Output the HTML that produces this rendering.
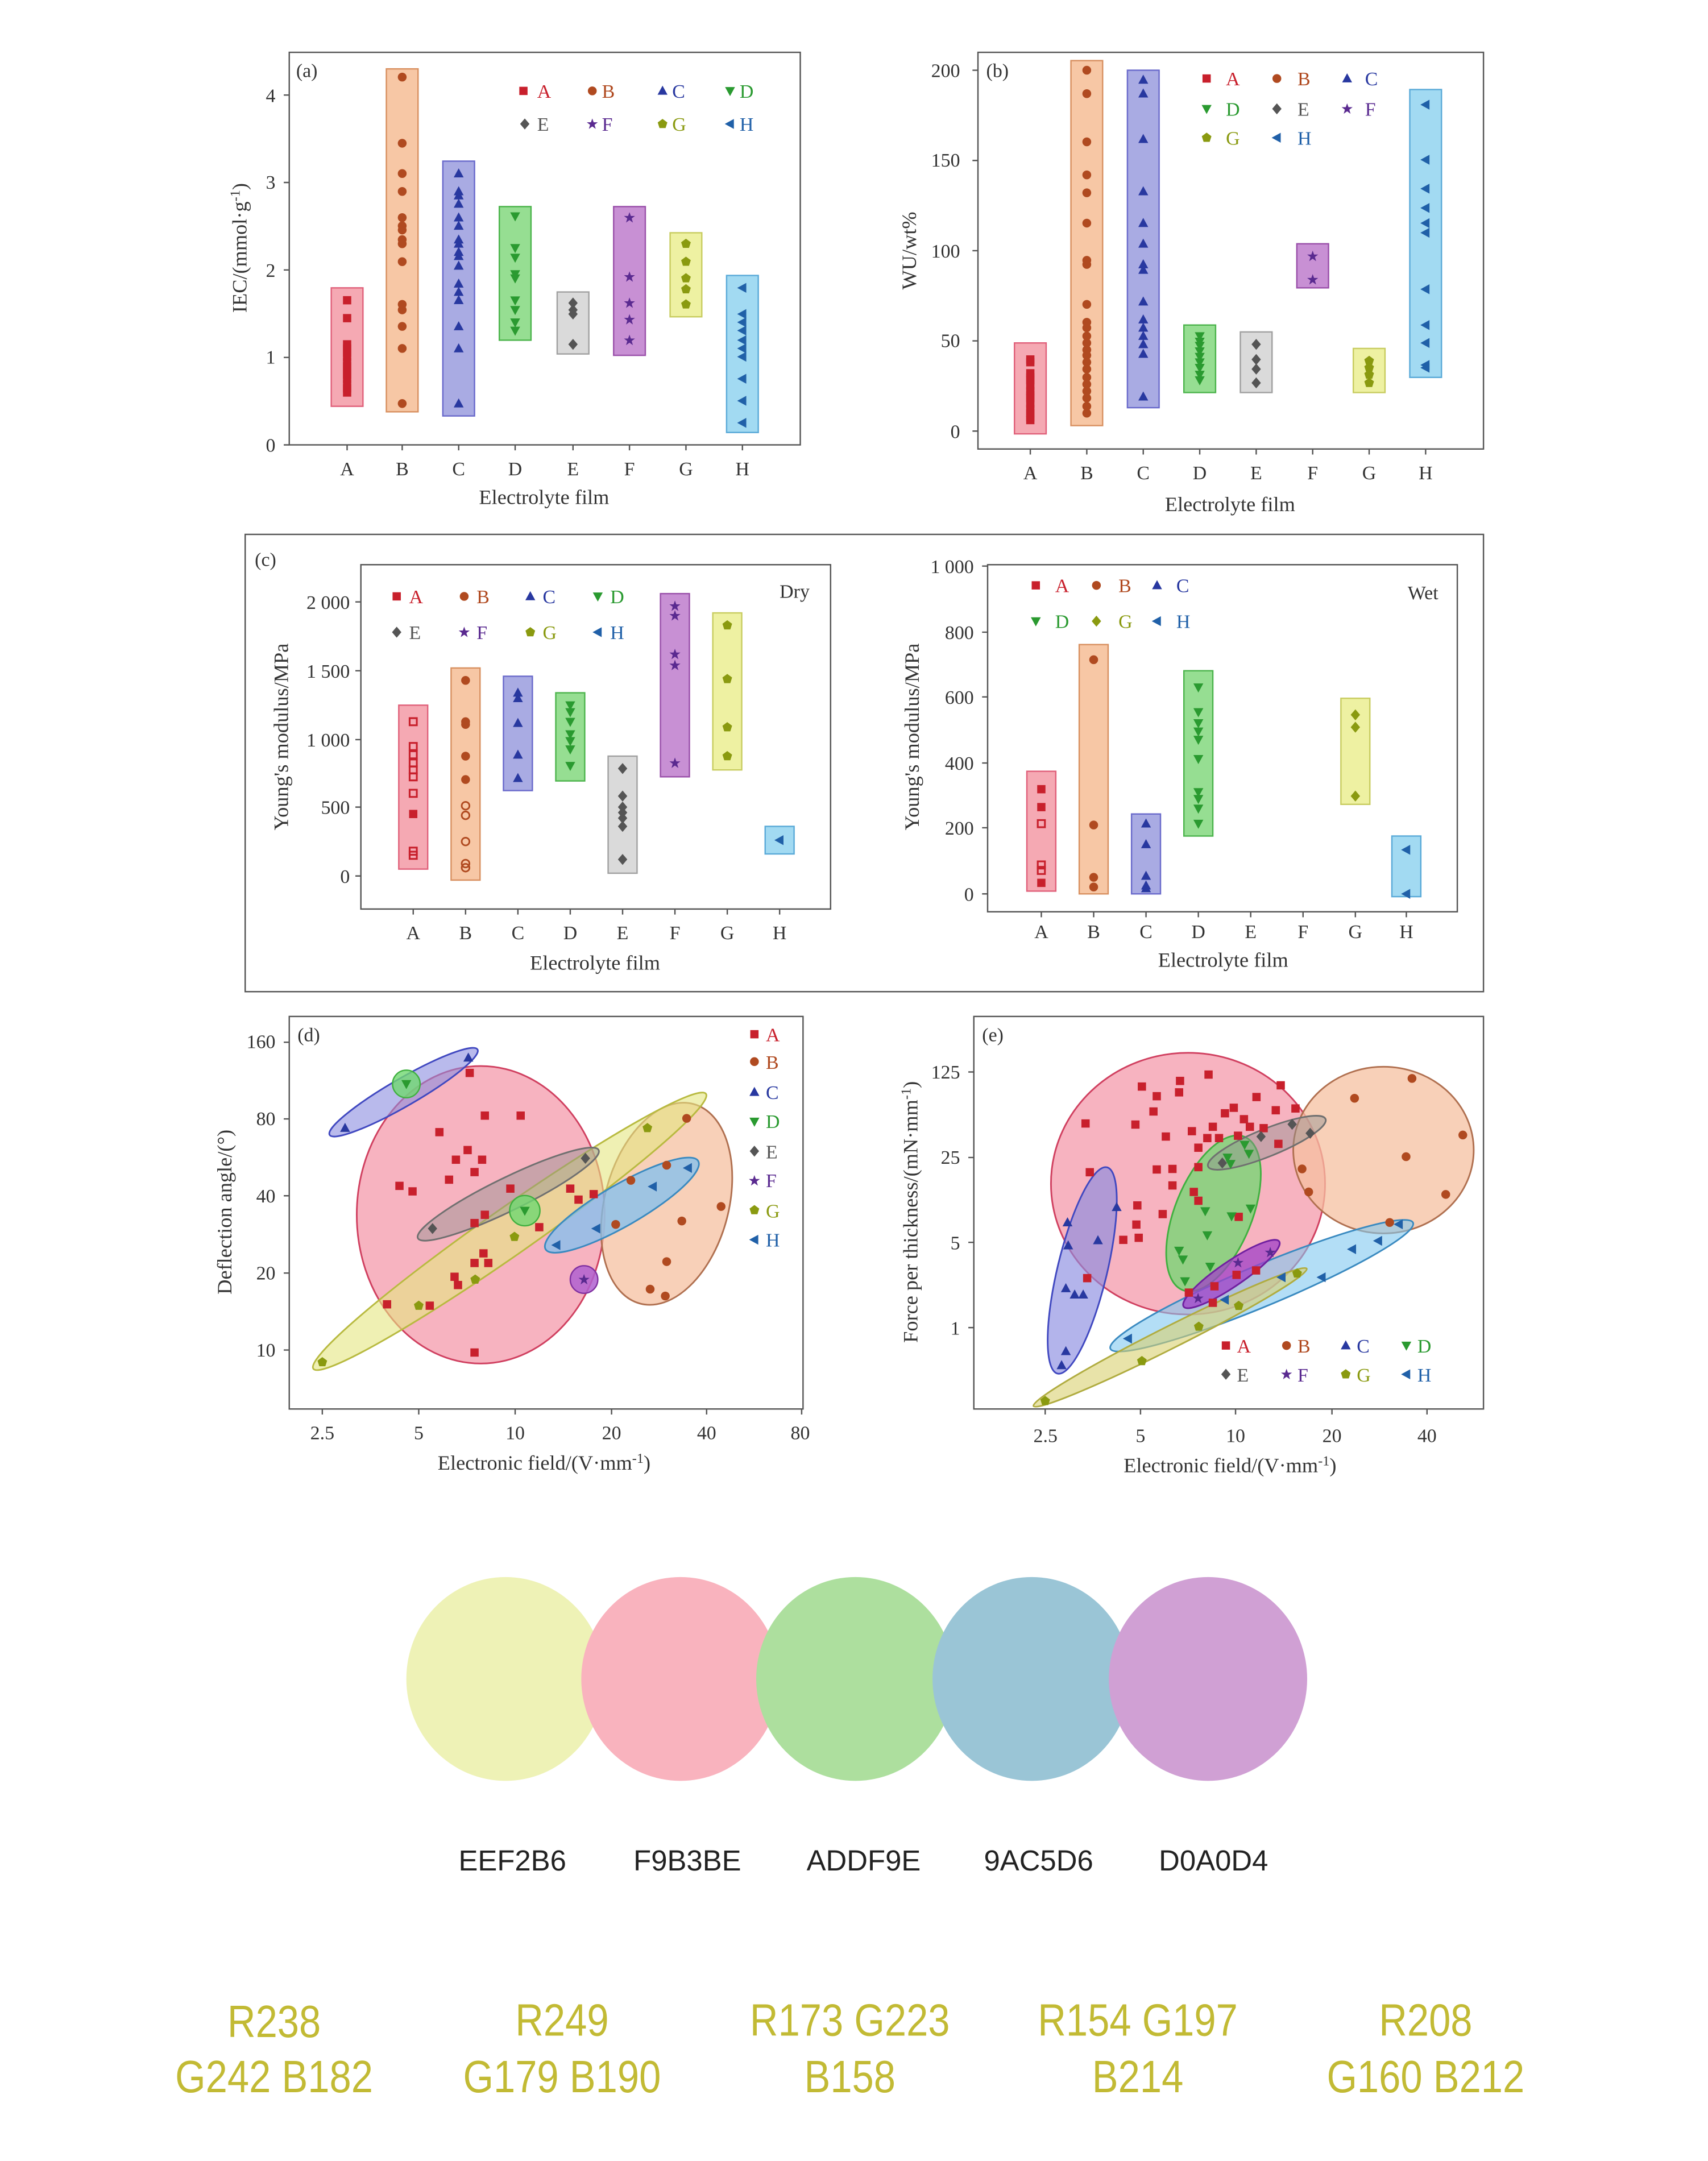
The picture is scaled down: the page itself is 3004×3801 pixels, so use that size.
<!DOCTYPE html>
<html><head><meta charset="utf-8"><style>
html,body{margin:0;padding:0;background:#fff}
svg{display:block}
.t{font-family:"Liberation Serif",serif;fill:#333}
.s{font-family:"Liberation Sans",sans-serif}
</style></head><body>
<svg width="3004" height="3801" viewBox="0 0 1240 1569" preserveAspectRatio="none" xmlns="http://www.w3.org/2000/svg">
<defs>
<path id="sq" d="M-3-3h6v6h-6z"/>
<path id="hs" d="M-2.6-2.6h5.2v5.2h-5.2z" fill="none" stroke="#C8202C" stroke-width="1.3"/>
<circle id="ci" r="3.2"/>
<path id="tu" d="M0-3.8L3.6,2.8H-3.6z"/>
<path id="td" d="M0,3.8L3.6-2.8H-3.6z"/>
<path id="di" d="M0-4L3.4,0L0,4L-3.4,0z"/>
<path id="st" d="M0-4L1,-1.2L4,-1.2L1.6,0.6L2.5,3.6L0,1.8L-2.5,3.6L-1.6,0.6L-4,-1.2L-1,-1.2z"/>
<path id="pe" d="M0-3.7L3.5-1.1L2.2,3H-2.2L-3.5-1.1z"/>
<path id="tl" d="M-3.8,0L2.8-3.6V3.6z"/>
</defs>
<rect width="1240" height="1569" fill="#fff"/>

<!-- ================= (a) ================= -->
<g>
<rect x="240.5" y="209" width="23" height="86" fill="#F5A9B3" stroke="#E0607A"/>
<rect x="280.5" y="50" width="23" height="249" fill="#F7C7A5" stroke="#D89060"/>
<rect x="321.5" y="117" width="23" height="185" fill="#A9ABE3" stroke="#6A6ACB"/>
<rect x="362.5" y="150" width="23" height="97" fill="#96DE92" stroke="#4CB44C"/>
<rect x="404.5" y="212" width="23" height="45" fill="#DADADA" stroke="#A0A0A0"/>
<rect x="445.5" y="150" width="23" height="108" fill="#C890D4" stroke="#9A50AA"/>
<rect x="486.5" y="169" width="23" height="61" fill="#EEF1A2" stroke="#C8CC60"/>
<rect x="527.5" y="200" width="23" height="114" fill="#A2DAF2" stroke="#5AAAD8"/>
<g fill="#C8202C"><use href="#sq" x="252" y="218"/><use href="#sq" x="252" y="231"/><use href="#sq" x="252" y="250"/><use href="#sq" x="252" y="253"/><use href="#sq" x="252" y="256"/><use href="#sq" x="252" y="259"/><use href="#sq" x="252" y="263"/><use href="#sq" x="252" y="266"/><use href="#sq" x="252" y="269"/><use href="#sq" x="252" y="272"/><use href="#sq" x="252" y="275"/><use href="#sq" x="252" y="279"/><use href="#sq" x="252" y="282"/><use href="#sq" x="252" y="285"/></g>
<g fill="#B04A20"><use href="#ci" x="292" y="56"/><use href="#ci" x="292" y="104"/><use href="#ci" x="292" y="126"/><use href="#ci" x="292" y="139"/><use href="#ci" x="292" y="158"/><use href="#ci" x="292" y="164"/><use href="#ci" x="292" y="167"/><use href="#ci" x="292" y="174"/><use href="#ci" x="292" y="177"/><use href="#ci" x="292" y="190"/><use href="#ci" x="292" y="221"/><use href="#ci" x="292" y="225"/><use href="#ci" x="292" y="237"/><use href="#ci" x="292" y="253"/><use href="#ci" x="292" y="293"/></g>
<g fill="#2838A0"><use href="#tu" x="333" y="126"/><use href="#tu" x="333" y="139"/><use href="#tu" x="333" y="142"/><use href="#tu" x="333" y="148"/><use href="#tu" x="333" y="158"/><use href="#tu" x="333" y="164"/><use href="#tu" x="333" y="174"/><use href="#tu" x="333" y="177"/><use href="#tu" x="333" y="183"/><use href="#tu" x="333" y="186"/><use href="#tu" x="333" y="193"/><use href="#tu" x="333" y="206"/><use href="#tu" x="333" y="212"/><use href="#tu" x="333" y="218"/><use href="#tu" x="333" y="237"/><use href="#tu" x="333" y="253"/><use href="#tu" x="333" y="293"/></g>
<g fill="#2A9A30"><use href="#td" x="374" y="157"/><use href="#td" x="374" y="180"/><use href="#td" x="374" y="187"/><use href="#td" x="374" y="199"/><use href="#td" x="374" y="202"/><use href="#td" x="374" y="218"/><use href="#td" x="374" y="225"/><use href="#td" x="374" y="234"/><use href="#td" x="374" y="240"/></g>
<g fill="#555"><use href="#di" x="416" y="220"/><use href="#di" x="416" y="225"/><use href="#di" x="416" y="228"/><use href="#di" x="416" y="250"/></g>
<g fill="#5A2A90"><use href="#st" x="457" y="158"/><use href="#st" x="457" y="201"/><use href="#st" x="457" y="220"/><use href="#st" x="457" y="232"/><use href="#st" x="457" y="247"/></g>
<g fill="#8A9A10"><use href="#pe" x="498" y="177"/><use href="#pe" x="498" y="190"/><use href="#pe" x="498" y="202"/><use href="#pe" x="498" y="210"/><use href="#pe" x="498" y="221"/></g>
<g fill="#2060A8"><use href="#tl" x="539" y="209"/><use href="#tl" x="539" y="228"/><use href="#tl" x="539" y="234"/><use href="#tl" x="539" y="240"/><use href="#tl" x="539" y="247"/><use href="#tl" x="539" y="253"/><use href="#tl" x="539" y="259"/><use href="#tl" x="539" y="275"/><use href="#tl" x="539" y="291"/><use href="#tl" x="539" y="307"/></g>
<rect x="210" y="38" width="371" height="285" fill="none" stroke="#555" stroke-width="1"/>
<g stroke="#555"><path d="M210,323h-4M210,259.5h-4M210,196h-4M210,132.5h-4M210,69h-4M252,323v4M292,323v4M333,323v4M374,323v4M416,323v4M457,323v4M498,323v4M539,323v4"/></g>
<g class="t" font-size="14" text-anchor="end"><text x="200" y="328">0</text><text x="200" y="264">1</text><text x="200" y="201">2</text><text x="200" y="137">3</text><text x="200" y="74">4</text></g>
<g class="t" font-size="14" text-anchor="middle"><text x="252" y="345">A</text><text x="292" y="345">B</text><text x="333" y="345">C</text><text x="374" y="345">D</text><text x="416" y="345">E</text><text x="457" y="345">F</text><text x="498" y="345">G</text><text x="539" y="345">H</text>
<text x="395" y="366" font-size="15">Electrolyte film</text>
<text transform="translate(179,180) rotate(-90)" font-size="15">IEC/(mmol·g<tspan dy="-5" font-size="10">-1</tspan><tspan dy="5">)</tspan></text></g>
<text class="t" x="215" y="56" font-size="14">(a)</text>
<g font-family="Liberation Serif,serif" font-size="14">
<use href="#sq" x="380" y="66" fill="#C8202C"/><text x="390" y="71" fill="#C8202C">A</text>
<use href="#ci" x="430" y="66" fill="#B04A20"/><text x="437" y="71" fill="#B04A20">B</text>
<use href="#tu" x="481" y="66" fill="#2838A0"/><text x="488" y="71" fill="#2838A0">C</text>
<use href="#td" x="530" y="66" fill="#2A9A30"/><text x="537" y="71" fill="#2A9A30">D</text>
<use href="#di" x="381" y="90" fill="#555"/><text x="390" y="95" fill="#555">E</text>
<use href="#st" x="430" y="90" fill="#5A2A90"/><text x="437" y="95" fill="#5A2A90">F</text>
<use href="#pe" x="481" y="90" fill="#8A9A10"/><text x="488" y="95" fill="#8A9A10">G</text>
<use href="#tl" x="530" y="90" fill="#2060A8"/><text x="537" y="95" fill="#2060A8">H</text>
</g>
</g>

<!-- ================= (b) ================= -->
<g>
<rect x="736.5" y="249" width="23" height="66" fill="#F5A9B3" stroke="#E0607A"/>
<rect x="777.5" y="44" width="23" height="265" fill="#F7C7A5" stroke="#D89060"/>
<rect x="818.5" y="51" width="23" height="245" fill="#A9ABE3" stroke="#6A6ACB"/>
<rect x="859.5" y="236" width="23" height="49" fill="#96DE92" stroke="#4CB44C"/>
<rect x="900.5" y="241" width="23" height="44" fill="#DADADA" stroke="#A0A0A0"/>
<rect x="941.5" y="177" width="23" height="32" fill="#C890D4" stroke="#9A50AA"/>
<rect x="982.5" y="253" width="23" height="32" fill="#EEF1A2" stroke="#C8CC60"/>
<rect x="1023.5" y="65" width="23" height="209" fill="#A2DAF2" stroke="#5AAAD8"/>
<g fill="#C8202C"><use href="#sq" x="748" y="261"/><use href="#sq" x="748" y="263"/><use href="#sq" x="748" y="271"/><use href="#sq" x="748" y="274"/><use href="#sq" x="748" y="276"/><use href="#sq" x="748" y="280"/><use href="#sq" x="748" y="284"/><use href="#sq" x="748" y="287"/><use href="#sq" x="748" y="289"/><use href="#sq" x="748" y="293"/><use href="#sq" x="748" y="297"/><use href="#sq" x="748" y="300"/><use href="#sq" x="748" y="303"/><use href="#sq" x="748" y="305"/></g>
<g fill="#B04A20"><use href="#ci" x="789" y="51"/><use href="#ci" x="789" y="68"/><use href="#ci" x="789" y="103"/><use href="#ci" x="789" y="127"/><use href="#ci" x="789" y="140"/><use href="#ci" x="789" y="162"/><use href="#ci" x="789" y="189"/><use href="#ci" x="789" y="192"/><use href="#ci" x="789" y="221"/><use href="#ci" x="789" y="234"/><use href="#ci" x="789" y="238"/><use href="#ci" x="789" y="244"/><use href="#ci" x="789" y="249"/><use href="#ci" x="789" y="254"/><use href="#ci" x="789" y="258"/><use href="#ci" x="789" y="263"/><use href="#ci" x="789" y="268"/><use href="#ci" x="789" y="274"/><use href="#ci" x="789" y="279"/><use href="#ci" x="789" y="284"/><use href="#ci" x="789" y="289"/><use href="#ci" x="789" y="295"/><use href="#ci" x="789" y="300"/></g>
<g fill="#2838A0"><use href="#tu" x="830" y="58"/><use href="#tu" x="830" y="68"/><use href="#tu" x="830" y="101"/><use href="#tu" x="830" y="139"/><use href="#tu" x="830" y="162"/><use href="#tu" x="830" y="177"/><use href="#tu" x="830" y="192"/><use href="#tu" x="830" y="196"/><use href="#tu" x="830" y="219"/><use href="#tu" x="830" y="232"/><use href="#tu" x="830" y="238"/><use href="#tu" x="830" y="244"/><use href="#tu" x="830" y="250"/><use href="#tu" x="830" y="257"/><use href="#tu" x="830" y="288"/></g>
<g fill="#2A9A30"><use href="#td" x="871" y="244"/><use href="#td" x="871" y="248"/><use href="#td" x="871" y="251"/><use href="#td" x="871" y="255"/><use href="#td" x="871" y="259"/><use href="#td" x="871" y="263"/><use href="#td" x="871" y="267"/><use href="#td" x="871" y="272"/><use href="#td" x="871" y="276"/></g>
<g fill="#555"><use href="#di" x="912" y="250"/><use href="#di" x="912" y="261"/><use href="#di" x="912" y="268"/><use href="#di" x="912" y="278"/></g>
<g fill="#5A2A90"><use href="#st" x="953" y="186"/><use href="#st" x="953" y="203"/></g>
<g fill="#8A9A10"><use href="#pe" x="994" y="262"/><use href="#pe" x="994" y="267"/><use href="#pe" x="994" y="272"/><use href="#pe" x="994" y="278"/></g>
<g fill="#2060A8"><use href="#tl" x="1035" y="76"/><use href="#tl" x="1035" y="116"/><use href="#tl" x="1035" y="137"/><use href="#tl" x="1035" y="151"/><use href="#tl" x="1035" y="162"/><use href="#tl" x="1035" y="169"/><use href="#tl" x="1035" y="210"/><use href="#tl" x="1035" y="236"/><use href="#tl" x="1035" y="249"/><use href="#tl" x="1035" y="265"/><use href="#tl" x="1035" y="267"/></g>
<rect x="710" y="38" width="367" height="288" fill="none" stroke="#555"/>
<g stroke="#555"><path d="M710,313h-4M710,247.5h-4M710,182h-4M710,116.5h-4M710,51h-4M748,326v4M789,326v4M830,326v4M871,326v4M912,326v4M953,326v4M994,326v4M1035,326v4"/></g>
<g class="t" font-size="14" text-anchor="end"><text x="697" y="318">0</text><text x="697" y="252">50</text><text x="697" y="187">100</text><text x="697" y="121">150</text><text x="697" y="56">200</text></g>
<g class="t" font-size="14" text-anchor="middle"><text x="748" y="348">A</text><text x="789" y="348">B</text><text x="830" y="348">C</text><text x="871" y="348">D</text><text x="912" y="348">E</text><text x="953" y="348">F</text><text x="994" y="348">G</text><text x="1035" y="348">H</text>
<text x="893" y="371" font-size="15">Electrolyte film</text>
<text transform="translate(665,182) rotate(-90)" font-size="15">WU/wt%</text></g>
<text class="t" x="716" y="56" font-size="14">(b)</text>
<g font-family="Liberation Serif,serif" font-size="14">
<use href="#sq" x="876" y="57" fill="#C8202C"/><text x="890" y="62" fill="#C8202C">A</text>
<use href="#ci" x="927" y="57" fill="#B04A20"/><text x="942" y="62" fill="#B04A20">B</text>
<use href="#tu" x="978" y="57" fill="#2838A0"/><text x="991" y="62" fill="#2838A0">C</text>
<use href="#td" x="876" y="79" fill="#2A9A30"/><text x="890" y="84" fill="#2A9A30">D</text>
<use href="#di" x="927" y="79" fill="#555"/><text x="942" y="84" fill="#555">E</text>
<use href="#st" x="978" y="79" fill="#5A2A90"/><text x="991" y="84" fill="#5A2A90">F</text>
<use href="#pe" x="876" y="100" fill="#8A9A10"/><text x="890" y="105" fill="#8A9A10">G</text>
<use href="#tl" x="927" y="100" fill="#2060A8"/><text x="942" y="105" fill="#2060A8">H</text>
</g>
</g>

<!-- ================= (c) ================= -->
<rect x="178" y="388" width="899" height="332" fill="none" stroke="#555"/>
<text class="t" x="185" y="411" font-size="14">(c)</text>
<g>
<rect x="289.5" y="512" width="21" height="119" fill="#F5A9B3" stroke="#E0607A"/>
<rect x="327.5" y="485" width="21" height="154" fill="#F7C7A5" stroke="#D89060"/>
<rect x="365.5" y="491" width="21" height="83" fill="#A9ABE3" stroke="#6A6ACB"/>
<rect x="403.5" y="503" width="21" height="64" fill="#96DE92" stroke="#4CB44C"/>
<rect x="441.5" y="549" width="21" height="85" fill="#DADADA" stroke="#A0A0A0"/>
<rect x="479.5" y="431" width="21" height="133" fill="#C890D4" stroke="#9A50AA"/>
<rect x="517.5" y="445" width="21" height="114" fill="#EEF1A2" stroke="#C8CC60"/>
<rect x="555.5" y="600" width="21" height="20" fill="#A2DAF2" stroke="#5AAAD8"/>
<g><use href="#hs" x="300" y="524"/><use href="#hs" x="300" y="542"/><use href="#hs" x="300" y="548"/><use href="#hs" x="300" y="554"/><use href="#hs" x="300" y="559"/><use href="#hs" x="300" y="564"/><use href="#hs" x="300" y="576"/><use href="#sq" x="300" y="591" fill="#C8202C"/><use href="#hs" x="300" y="618"/><use href="#hs" x="300" y="621"/></g>
<g fill="#B04A20"><use href="#ci" x="338" y="494"/><use href="#ci" x="338" y="524"/><use href="#ci" x="338" y="526"/><use href="#ci" x="338" y="549"/><use href="#ci" x="338" y="566"/></g>
<g fill="none" stroke="#B04A20" stroke-width="1.2"><circle cx="338" cy="585" r="2.8"/><circle cx="338" cy="592" r="2.8"/><circle cx="338" cy="611" r="2.8"/><circle cx="338" cy="627" r="2.8"/><circle cx="338" cy="630" r="2.8"/></g>
<g fill="#2838A0"><use href="#tu" x="376" y="503"/><use href="#tu" x="376" y="507"/><use href="#tu" x="376" y="525"/><use href="#tu" x="376" y="548"/><use href="#tu" x="376" y="565"/></g>
<g fill="#2A9A30"><use href="#td" x="414" y="512"/><use href="#td" x="414" y="517"/><use href="#td" x="414" y="524"/><use href="#td" x="414" y="533"/><use href="#td" x="414" y="538"/><use href="#td" x="414" y="544"/><use href="#td" x="414" y="556"/></g>
<g fill="#555"><use href="#di" x="452" y="558"/><use href="#di" x="452" y="578"/><use href="#di" x="452" y="586"/><use href="#di" x="452" y="590"/><use href="#di" x="452" y="594"/><use href="#di" x="452" y="600"/><use href="#di" x="452" y="624"/></g>
<g fill="#5A2A90"><use href="#st" x="490" y="440"/><use href="#st" x="490" y="447"/><use href="#st" x="490" y="475"/><use href="#st" x="490" y="483"/><use href="#st" x="490" y="554"/></g>
<g fill="#8A9A10"><use href="#pe" x="528" y="454"/><use href="#pe" x="528" y="493"/><use href="#pe" x="528" y="528"/><use href="#pe" x="528" y="549"/></g>
<g fill="#2060A8"><use href="#tl" x="566" y="610"/></g>
<rect x="262" y="410" width="341" height="250" fill="none" stroke="#555"/>
<g stroke="#555"><path d="M262,636h-4M262,586h-4M262,537h-4M262,487h-4M262,437h-4M300,660v4M338,660v4M376,660v4M414,660v4M452,660v4M490,660v4M528,660v4M566,660v4"/></g>
<g class="t" font-size="14" text-anchor="end"><text x="254" y="641">0</text><text x="254" y="591">500</text><text x="254" y="542">1 000</text><text x="254" y="492">1 500</text><text x="254" y="442">2 000</text></g>
<g class="t" font-size="14" text-anchor="middle"><text x="300" y="682">A</text><text x="338" y="682">B</text><text x="376" y="682">C</text><text x="414" y="682">D</text><text x="452" y="682">E</text><text x="490" y="682">F</text><text x="528" y="682">G</text><text x="566" y="682">H</text>
<text x="432" y="704" font-size="15">Electrolyte film</text>
<text transform="translate(209,535) rotate(-90)" font-size="15">Young's modulus/MPa</text></g>
<text class="t" x="566" y="434" font-size="14">Dry</text>
<g font-family="Liberation Serif,serif" font-size="14">
<use href="#sq" x="288" y="433" fill="#C8202C"/><text x="297" y="438" fill="#C8202C">A</text>
<use href="#ci" x="337" y="433" fill="#B04A20"/><text x="346" y="438" fill="#B04A20">B</text>
<use href="#tu" x="385" y="433" fill="#2838A0"/><text x="394" y="438" fill="#2838A0">C</text>
<use href="#td" x="434" y="433" fill="#2A9A30"/><text x="443" y="438" fill="#2A9A30">D</text>
<use href="#di" x="288" y="459" fill="#555"/><text x="297" y="464" fill="#555">E</text>
<use href="#st" x="337" y="459" fill="#5A2A90"/><text x="346" y="464" fill="#5A2A90">F</text>
<use href="#pe" x="385" y="459" fill="#8A9A10"/><text x="394" y="464" fill="#8A9A10">G</text>
<use href="#tl" x="434" y="459" fill="#2060A8"/><text x="443" y="464" fill="#2060A8">H</text>
</g>
</g>
<g>
<rect x="745.5" y="560" width="21" height="87" fill="#F5A9B3" stroke="#E0607A"/>
<rect x="783.5" y="468" width="21" height="181" fill="#F7C7A5" stroke="#D89060"/>
<rect x="821.5" y="591" width="21" height="58" fill="#A9ABE3" stroke="#6A6ACB"/>
<rect x="859.5" y="487" width="21" height="120" fill="#96DE92" stroke="#4CB44C"/>
<rect x="973.5" y="507" width="21" height="77" fill="#EEF1A2" stroke="#C8CC60"/>
<rect x="1010.5" y="607" width="21" height="44" fill="#A2DAF2" stroke="#5AAAD8"/>
<g fill="#C8202C"><use href="#sq" x="756" y="573"/><use href="#sq" x="756" y="586"/><use href="#sq" x="756" y="641"/></g>
<g><use href="#hs" x="756" y="598"/><use href="#hs" x="756" y="628"/><use href="#hs" x="756" y="632"/></g>
<g fill="#B04A20"><use href="#ci" x="794" y="479"/><use href="#ci" x="794" y="599"/><use href="#ci" x="794" y="637"/><use href="#ci" x="794" y="644"/></g>
<g fill="#2838A0"><use href="#tu" x="832" y="598"/><use href="#tu" x="832" y="613"/><use href="#tu" x="832" y="636"/><use href="#tu" x="832" y="643"/><use href="#tu" x="832" y="645"/></g>
<g fill="#2A9A30"><use href="#td" x="870" y="499"/><use href="#td" x="870" y="517"/><use href="#td" x="870" y="525"/><use href="#td" x="870" y="531"/><use href="#td" x="870" y="537"/><use href="#td" x="870" y="551"/><use href="#td" x="870" y="575"/><use href="#td" x="870" y="580"/><use href="#td" x="870" y="587"/><use href="#td" x="870" y="598"/></g>
<g fill="#8A9A10"><use href="#di" x="984" y="519"/><use href="#di" x="984" y="528"/><use href="#di" x="984" y="578"/></g>
<g fill="#2060A8"><use href="#tl" x="1021" y="617"/><use href="#tl" x="1021" y="649"/></g>
<rect x="717" y="410" width="341" height="252" fill="none" stroke="#555"/>
<g stroke="#555"><path d="M717,649h-4M717,601h-4M717,554h-4M717,506h-4M717,459h-4M717,411h-4M756,662v4M794,662v4M832,662v4M870,662v4M908,662v4M946,662v4M984,662v4M1021,662v4"/></g>
<g class="t" font-size="14" text-anchor="end"><text x="707" y="654">0</text><text x="707" y="606">200</text><text x="707" y="559">400</text><text x="707" y="511">600</text><text x="707" y="464">800</text><text x="707" y="416">1 000</text></g>
<g class="t" font-size="14" text-anchor="middle"><text x="756" y="681">A</text><text x="794" y="681">B</text><text x="832" y="681">C</text><text x="870" y="681">D</text><text x="908" y="681">E</text><text x="946" y="681">F</text><text x="984" y="681">G</text><text x="1021" y="681">H</text>
<text x="888" y="702" font-size="15">Electrolyte film</text>
<text transform="translate(667,535) rotate(-90)" font-size="15">Young's modulus/MPa</text></g>
<text class="t" x="1022" y="435" font-size="14">Wet</text>
<g font-family="Liberation Serif,serif" font-size="14">
<use href="#sq" x="752" y="425" fill="#C8202C"/><text x="766" y="430" fill="#C8202C">A</text>
<use href="#ci" x="796" y="425" fill="#B04A20"/><text x="812" y="430" fill="#B04A20">B</text>
<use href="#tu" x="840" y="425" fill="#2838A0"/><text x="854" y="430" fill="#2838A0">C</text>
<use href="#td" x="752" y="451" fill="#2A9A30"/><text x="766" y="456" fill="#2A9A30">D</text>
<use href="#di" x="796" y="451" fill="#8A9A10"/><text x="812" y="456" fill="#8A9A10">G</text>
<use href="#tl" x="840" y="451" fill="#2060A8"/><text x="854" y="456" fill="#2060A8">H</text>
</g>
</g>

<!-- ================= (d) ================= -->
<g>
<ellipse cx="349" cy="882" rx="90" ry="108" fill="#F5A0B0" fill-opacity="0.8" stroke="#D04060" stroke-width="1.2"/>
<ellipse cx="484" cy="874" rx="45" ry="75" transform="rotate(15 484 874)" fill="#F5C0A0" fill-opacity="0.75" stroke="#B07050" stroke-width="1.2"/>
<ellipse cx="370" cy="894" rx="174" ry="17" transform="rotate(-35 370 894)" fill="#E4E680" fill-opacity="0.6" stroke="#B8BA40" stroke-width="1.2"/>
<ellipse cx="293" cy="793" rx="62" ry="10" transform="rotate(-30 293 793)" fill="#8A8CE0" fill-opacity="0.6" stroke="#4048C0" stroke-width="1.2"/>
<ellipse cx="369" cy="867" rx="73" ry="12" transform="rotate(-26 369 867)" fill="#909090" fill-opacity="0.45" stroke="#707070" stroke-width="1.2"/>
<ellipse cx="451.5" cy="875" rx="64" ry="15" transform="rotate(-30 451.5 875)" fill="#80C0F0" fill-opacity="0.75" stroke="#3A8AC0" stroke-width="1.2"/>
<circle cx="295" cy="787" r="10" fill="#70D870" fill-opacity="0.8" stroke="#40B040"/>
<circle cx="381" cy="879" r="11" fill="#70D870" fill-opacity="0.8" stroke="#40B040"/>
<circle cx="424" cy="929" r="10" fill="#B060D0" fill-opacity="0.85" stroke="#8030A0"/>
<g fill="#C8202C"><use href="#sq" x="341" y="779"/><use href="#sq" x="352" y="810"/><use href="#sq" x="378" y="810"/><use href="#sq" x="319" y="822"/><use href="#sq" x="339.5" y="835"/><use href="#sq" x="331" y="842"/><use href="#sq" x="350" y="842"/><use href="#sq" x="344.5" y="851"/><use href="#sq" x="326" y="856.5"/><use href="#sq" x="290" y="861"/><use href="#sq" x="299.5" y="865"/><use href="#sq" x="370.5" y="863"/><use href="#sq" x="414" y="863"/><use href="#sq" x="420" y="871"/><use href="#sq" x="431" y="867"/><use href="#sq" x="352" y="882"/><use href="#sq" x="344.5" y="888"/><use href="#sq" x="391.5" y="891"/><use href="#sq" x="351" y="910"/><use href="#sq" x="344.5" y="917"/><use href="#sq" x="354.5" y="917"/><use href="#sq" x="330" y="927"/><use href="#sq" x="332.5" y="933"/><use href="#sq" x="281" y="947"/><use href="#sq" x="312" y="948"/><use href="#sq" x="344.5" y="982"/></g>
<g fill="#B04A20"><use href="#ci" x="498.5" y="812"/><use href="#ci" x="484" y="846"/><use href="#ci" x="458" y="857"/><use href="#ci" x="447" y="889"/><use href="#ci" x="523.5" y="876"/><use href="#ci" x="495" y="886.5"/><use href="#ci" x="484" y="916"/><use href="#ci" x="472" y="936"/><use href="#ci" x="483" y="941"/></g>
<g fill="#2838A0"><use href="#tu" x="340" y="768"/><use href="#tu" x="250.5" y="819"/></g>
<g fill="#2A9A30"><use href="#td" x="295" y="787"/><use href="#td" x="381" y="879"/></g>
<g fill="#555"><use href="#di" x="314" y="892"/><use href="#di" x="425" y="841"/></g>
<g fill="#5A2A90"><use href="#st" x="424" y="929"/></g>
<g fill="#8A9A10"><use href="#pe" x="234" y="989"/><use href="#pe" x="304" y="948"/><use href="#pe" x="345" y="929"/><use href="#pe" x="373.5" y="898"/><use href="#pe" x="470" y="819"/></g>
<g fill="#2060A8"><use href="#tl" x="404" y="904"/><use href="#tl" x="433" y="892"/><use href="#tl" x="474" y="861.5"/><use href="#tl" x="499.5" y="848"/></g>
<rect x="210" y="738" width="373" height="285" fill="none" stroke="#555"/>
<g stroke="#555"><path d="M210,756.7h-4M210,812.4h-4M210,868.2h-4M210,924.3h-4M210,980.2h-4M234,1023v4M304,1023v4M374,1023v4M444,1023v4M513,1023v4M582,1023v4"/></g>
<g class="t" font-size="14" text-anchor="end"><text x="200" y="761">160</text><text x="200" y="817">80</text><text x="200" y="873">40</text><text x="200" y="929">20</text><text x="200" y="985">10</text></g>
<g class="t" font-size="14" text-anchor="middle"><text x="234" y="1045">2.5</text><text x="304" y="1045">5</text><text x="374" y="1045">10</text><text x="444" y="1045">20</text><text x="513" y="1045">40</text><text x="581" y="1045">80</text>
<text x="395" y="1067" font-size="15">Electronic field/(V·mm<tspan dy="-5" font-size="10">-1</tspan><tspan dy="5">)</tspan></text>
<text transform="translate(168,880) rotate(-90)" font-size="15">Deflection angle/(°)</text></g>
<text class="t" x="216" y="756" font-size="14">(d)</text>
<g font-family="Liberation Serif,serif" font-size="14">
<use href="#sq" x="547.7" y="750.9" fill="#C8202C"/><text x="556" y="756" fill="#C8202C">A</text>
<use href="#ci" x="547.7" y="770.8" fill="#B04A20"/><text x="556" y="776" fill="#B04A20">B</text>
<use href="#tu" x="547.7" y="792.9" fill="#2838A0"/><text x="556" y="798" fill="#2838A0">C</text>
<use href="#td" x="547.7" y="814.3" fill="#2A9A30"/><text x="556" y="819" fill="#2A9A30">D</text>
<use href="#di" x="547.7" y="835.8" fill="#555"/><text x="556" y="841" fill="#555">E</text>
<use href="#st" x="547.7" y="857.2" fill="#5A2A90"/><text x="556" y="862" fill="#5A2A90">F</text>
<use href="#pe" x="547.7" y="878.6" fill="#8A9A10"/><text x="556" y="884" fill="#8A9A10">G</text>
<use href="#tl" x="547.7" y="900.1" fill="#2060A8"/><text x="556" y="905" fill="#2060A8">H</text>
</g>
</g>

<!-- ================= (e) ================= -->
<g>
<ellipse cx="862.5" cy="859.4" rx="99.5" ry="95" fill="#F5A0B0" fill-opacity="0.8" stroke="#D04060" stroke-width="1.2"/>
<ellipse cx="1004.4" cy="835" rx="65.5" ry="60.5" fill="#F5C0A0" fill-opacity="0.75" stroke="#B07050" stroke-width="1.2"/>
<ellipse cx="785.7" cy="922.4" rx="18" ry="77" transform="rotate(13.5 785.7 922.4)" fill="#8A8CE0" fill-opacity="0.65" stroke="#4048C0" stroke-width="1.2"/>
<ellipse cx="881" cy="881" rx="28" ry="60" transform="rotate(22 881 881)" fill="#70D870" fill-opacity="0.75" stroke="#40B040" stroke-width="1.2"/>
<ellipse cx="919.7" cy="829.7" rx="46" ry="10" transform="rotate(-22 919.7 829.7)" fill="#909090" fill-opacity="0.45" stroke="#707070" stroke-width="1.2"/>
<ellipse cx="916" cy="933.5" rx="119" ry="15" transform="rotate(-22.6 916 933.5)" fill="#80C8F0" fill-opacity="0.6" stroke="#3A8AC0" stroke-width="1.2"/>
<ellipse cx="849.5" cy="971" rx="111" ry="8" transform="rotate(-26.7 849.5 971)" fill="#D8D070" fill-opacity="0.6" stroke="#B0AC40" stroke-width="1.2"/>
<ellipse cx="894" cy="925" rx="42" ry="9" transform="rotate(-34.3 894 925)" fill="#A040C8" fill-opacity="0.75" stroke="#7020A0" stroke-width="1.2"/>
<g fill="#C8202C"><use href="#sq" x="877.4" y="780.2"/><use href="#sq" x="856.7" y="784.8"/><use href="#sq" x="829" y="788.9"/><use href="#sq" x="929.8" y="788"/><use href="#sq" x="839.8" y="795.9"/><use href="#sq" x="856" y="793.1"/><use href="#sq" x="912.2" y="796.5"/><use href="#sq" x="837.4" y="807"/><use href="#sq" x="895.7" y="804.3"/><use href="#sq" x="889.3" y="808.3"/><use href="#sq" x="926.2" y="806.1"/><use href="#sq" x="940.5" y="804.8"/><use href="#sq" x="788.1" y="815.7"/><use href="#sq" x="824.3" y="816.5"/><use href="#sq" x="903.1" y="812.6"/><use href="#sq" x="880.5" y="818.1"/><use href="#sq" x="907.4" y="818.1"/><use href="#sq" x="917.4" y="819.1"/><use href="#sq" x="865.3" y="821.3"/><use href="#sq" x="846.4" y="825.2"/><use href="#sq" x="876.5" y="826.3"/><use href="#sq" x="885" y="826.3"/><use href="#sq" x="898.8" y="824.6"/><use href="#sq" x="928.1" y="830.5"/><use href="#sq" x="870" y="833.3"/><use href="#sq" x="839.8" y="849.1"/><use href="#sq" x="851.2" y="848.7"/><use href="#sq" x="870" y="847.4"/><use href="#sq" x="851.2" y="860.7"/><use href="#sq" x="866.7" y="865.4"/><use href="#sq" x="870" y="871.8"/><use href="#sq" x="825.7" y="875.2"/><use href="#sq" x="844.1" y="881.5"/><use href="#sq" x="899.3" y="883.5"/><use href="#sq" x="825" y="889.1"/><use href="#sq" x="826.7" y="898.7"/><use href="#sq" x="815.5" y="900.2"/><use href="#sq" x="789.3" y="928"/><use href="#sq" x="791.2" y="851.1"/><use href="#sq" x="911.9" y="922.4"/><use href="#sq" x="897.7" y="925.6"/><use href="#sq" x="881.7" y="933.9"/><use href="#sq" x="863.1" y="938.5"/><use href="#sq" x="880.5" y="945.9"/></g>
<g fill="#B04A20"><use href="#ci" x="1025.1" y="783"/><use href="#ci" x="983.4" y="797.4"/><use href="#ci" x="1062" y="824.1"/><use href="#ci" x="1020.8" y="839.8"/><use href="#ci" x="945.3" y="848.7"/><use href="#ci" x="950.1" y="865.4"/><use href="#ci" x="1049.6" y="867.2"/><use href="#ci" x="1008.9" y="887.6"/></g>
<g fill="#2838A0"><use href="#tu" x="810.7" y="876.5"/><use href="#tu" x="797.1" y="900.6"/><use href="#tu" x="775" y="887.6"/><use href="#tu" x="775.5" y="904.3"/><use href="#tu" x="773.8" y="935.4"/><use href="#tu" x="780.2" y="940"/><use href="#tu" x="786.4" y="940"/><use href="#tu" x="773.8" y="981.1"/><use href="#tu" x="770.7" y="991.3"/></g>
<g fill="#2A9A30"><use href="#td" x="903.6" y="831.1"/><use href="#td" x="906.7" y="837.6"/><use href="#td" x="891.2" y="840.4"/><use href="#td" x="893.4" y="845"/><use href="#td" x="907.9" y="877.4"/><use href="#td" x="875" y="879.3"/><use href="#td" x="894.1" y="883"/><use href="#td" x="876.5" y="896.8"/><use href="#td" x="856" y="908"/><use href="#td" x="858.8" y="914.4"/><use href="#td" x="878.6" y="919.6"/><use href="#td" x="860.3" y="930.2"/></g>
<g fill="#555"><use href="#di" x="938.1" y="816.3"/><use href="#di" x="951.2" y="822.8"/><use href="#di" x="915.5" y="825.2"/><use href="#di" x="887.4" y="844.4"/></g>
<g fill="#5A2A90"><use href="#st" x="922.2" y="909.3"/><use href="#st" x="898.8" y="916.7"/><use href="#st" x="869.8" y="942.6"/></g>
<g fill="#8A9A10"><use href="#pe" x="941.7" y="924.6"/><use href="#pe" x="899.3" y="948.1"/><use href="#pe" x="870.3" y="963.2"/><use href="#pe" x="829" y="988.2"/><use href="#pe" x="758.8" y="1017.2"/></g>
<g fill="#2060A8"><use href="#tl" x="1015.6" y="888.9"/><use href="#tl" x="1000.6" y="900.9"/><use href="#tl" x="981.7" y="907"/><use href="#tl" x="959.6" y="927.4"/><use href="#tl" x="930.5" y="927.4"/><use href="#tl" x="889.3" y="943.7"/><use href="#tl" x="819" y="971.9"/></g>
<rect x="707" y="738" width="370" height="285" fill="none" stroke="#555"/>
<g stroke="#555"><path d="M707,778.3h-4M707,840.4h-4M707,902h-4M707,963.9h-4M758.8,1023v4M828,1023v4M897,1023v4M967,1023v4M1036,1023v4"/></g>
<g class="t" font-size="14" text-anchor="end"><text x="697" y="783">125</text><text x="697" y="845">25</text><text x="697" y="907">5</text><text x="697" y="969">1</text></g>
<g class="t" font-size="14" text-anchor="middle"><text x="759" y="1047">2.5</text><text x="828" y="1047">5</text><text x="897" y="1047">10</text><text x="967" y="1047">20</text><text x="1036" y="1047">40</text>
<text x="893" y="1069" font-size="15">Electronic field/(V·mm<tspan dy="-5" font-size="10">-1</tspan><tspan dy="5">)</tspan></text>
<text transform="translate(666,880) rotate(-90)" font-size="15">Force per thickness/(mN·mm<tspan dy="-5" font-size="10">-1</tspan><tspan dy="5">)</tspan></text></g>
<text class="t" x="713" y="756" font-size="14">(e)</text>
<g font-family="Liberation Serif,serif" font-size="14">
<use href="#sq" x="890" y="976.9" fill="#C8202C"/><text x="898" y="982" fill="#C8202C">A</text>
<use href="#ci" x="934" y="976.9" fill="#B04A20"/><text x="942" y="982" fill="#B04A20">B</text>
<use href="#tu" x="977" y="976.9" fill="#2838A0"/><text x="985" y="982" fill="#2838A0">C</text>
<use href="#td" x="1021" y="976.9" fill="#2A9A30"/><text x="1029" y="982" fill="#2A9A30">D</text>
<use href="#di" x="890" y="997.8" fill="#555"/><text x="898" y="1003" fill="#555">E</text>
<use href="#st" x="934" y="997.8" fill="#5A2A90"/><text x="942" y="1003" fill="#5A2A90">F</text>
<use href="#pe" x="977" y="997.8" fill="#8A9A10"/><text x="985" y="1003" fill="#8A9A10">G</text>
<use href="#tl" x="1021" y="997.8" fill="#2060A8"/><text x="1029" y="1003" fill="#2060A8">H</text>
</g>
</g>

<!-- ================= swatches ================= -->
<ellipse cx="367" cy="1219" rx="72" ry="74" fill="#EEF2B6"/>
<ellipse cx="494" cy="1219" rx="72" ry="74" fill="#F9B3BE"/>
<ellipse cx="621" cy="1219" rx="72" ry="74" fill="#ADDF9E"/>
<ellipse cx="749" cy="1219" rx="72" ry="74" fill="#9AC5D6"/>
<ellipse cx="877" cy="1219" rx="72" ry="74" fill="#D0A0D4"/>
<g class="s" font-size="21" fill="#222" text-anchor="middle">
<text x="372" y="1358">EEF2B6</text><text x="499" y="1358">F9B3BE</text><text x="627" y="1358">ADDF9E</text><text x="754" y="1358">9AC5D6</text><text x="881" y="1358">D0A0D4</text>
</g>
<g class="s" font-size="33" fill="#C2BA34" text-anchor="middle">
<text transform="translate(199,1479) scale(0.86,1)">R238</text><text transform="translate(199,1519) scale(0.86,1)">G242 B182</text>
<text transform="translate(408,1478) scale(0.86,1)">R249</text><text transform="translate(408,1519) scale(0.86,1)">G179 B190</text>
<text transform="translate(617,1478) scale(0.86,1)">R173 G223</text><text transform="translate(617,1519) scale(0.86,1)">B158</text>
<text transform="translate(826,1478) scale(0.86,1)">R154 G197</text><text transform="translate(826,1519) scale(0.86,1)">B214</text>
<text transform="translate(1035,1478) scale(0.86,1)">R208</text><text transform="translate(1035,1519) scale(0.86,1)">G160 B212</text>
</g>
</svg>
</body></html>
